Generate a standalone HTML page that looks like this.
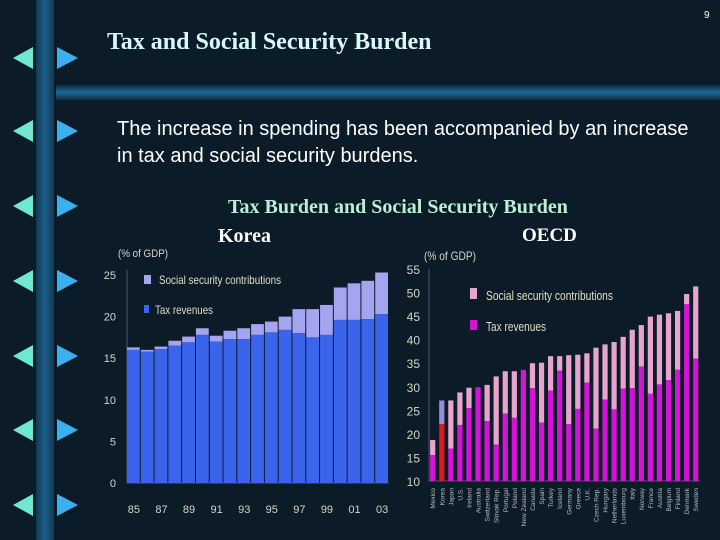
<!DOCTYPE html>
<html><head><meta charset="utf-8">
<style>
html,body{margin:0;padding:0;}
body{width:720px;height:540px;background:#0b1c28;position:relative;overflow:hidden;font-family:"Liberation Sans",sans-serif;}
.t{position:absolute;white-space:nowrap;}
</style></head>
<body>
<div style="position:absolute;left:36px;top:0;width:18px;height:540px;background:linear-gradient(90deg,#123a55,#1d5f88,#123a55);"></div>
<div style="position:absolute;left:56px;top:85px;width:664px;height:15px;background:linear-gradient(180deg,#0f2c40,#1f6a98,#0f2c40);"></div>
<svg width="100" height="540" style="position:absolute;left:0;top:0">
<g id="arr"></g>
</svg>
<div class="t" style="left:704px;top:10px;font-size:10px;color:#fff;">9</div>
<div class="t" style="left:107px;top:29px;font-family:'Liberation Serif',serif;font-weight:bold;font-size:24px;color:#d8f8f8;">Tax and Social Security Burden</div>
<div class="t" style="left:117px;top:116px;font-size:20px;line-height:27px;color:#fff;">The increase in spending has been accompanied by an increase<br>in tax and social security burdens.</div>
<div class="t" style="left:228px;top:196px;font-family:'Liberation Serif',serif;font-weight:bold;font-size:20px;color:#b8f0d0;">Tax Burden and Social Security Burden</div>
<div class="t" style="left:218px;top:225px;font-family:'Liberation Serif',serif;font-weight:bold;font-size:20px;color:#fff;">Korea</div>
<div class="t" style="left:522px;top:225px;font-family:'Liberation Serif',serif;font-weight:bold;font-size:19px;color:#fff;">OECD</div>
<svg id="korea" width="300" height="290" style="position:absolute;left:100px;top:240px"></svg>
<svg id="oecd" width="320" height="300" style="position:absolute;left:400px;top:240px"></svg>
<script>
const koreaYears=["85","86","87","88","89","90","91","92","93","94","95","96","97","98","99","00","01","02","03"];
const koreaTax=[16.0,15.8,16.1,16.5,16.9,17.8,17.0,17.3,17.3,17.8,18.1,18.4,18.0,17.5,17.8,19.6,19.6,19.7,20.3];
const koreaTotal=[16.3,16.0,16.4,17.1,17.6,18.6,17.7,18.3,18.6,19.1,19.4,20.0,20.9,20.9,21.4,23.5,24.0,24.3,25.3];
const koreaTicks=[0,5,10,15,20,25];
const oecdCountries=["Mexico","Korea","Japan","U.S.","Ireland","Australia","Switzerland","Slovak Rep.","Portugal","Poland","New Zealand","Canada","Spain","Turkey","Iceland","Germany","Greece","U.K.","Czech Rep.","Hungary","Netherlands","Luxembourg","Italy","Norway","France","Austria","Belgium","Finland","Denmark","Sweden"];
const oecdTax=[15.5,22.1,16.9,21.9,25.5,29.9,22.7,17.7,24.3,23.4,33.6,29.7,22.4,29.2,33.4,22.1,25.3,30.9,21.1,27.3,25.2,29.6,29.7,34.3,28.5,30.5,31.4,33.6,47.5,36.0];
const oecdTotal=[18.7,27.1,27.1,28.8,29.8,29.9,30.4,32.2,33.3,33.3,33.6,35.0,35.1,36.5,36.5,36.7,36.8,37.1,38.3,39.0,39.5,40.6,42.1,43.1,44.9,45.3,45.6,46.1,49.7,51.3];
const oecdTicks=[10,15,20,25,30,35,40,45,50,55];
const NS="http://www.w3.org/2000/svg";
function mk(p,tag,a,txt){const e=document.createElementNS(NS,tag);for(const k in a)e.setAttribute(k,a[k]);if(txt!==undefined)e.textContent=txt;p.appendChild(e);return e;}
const ag=document.getElementById('arr');
[58,131,206,281,356,430,505].forEach(function(y){
 const l=mk(ag,'polygon',{points:`13,${y} 33,${y-11} 33,${y+11}`,fill:'#6fe8d0'});
 
 
 const r=mk(ag,'polygon',{points:`78,${y} 57,${y-11} 57,${y+11}`,fill:'#3ab0f0'});
 
 
});
(function(){
 const s=document.getElementById('korea');
 const x0=27,x1=289,yb=243,yt=35,vmax=25;
 const y=v=>yb-(v/vmax)*(yb-yt);
 const bw=(x1-x0)/koreaYears.length;
 const bx=i=>x0+i*bw;
 mk(s,'line',{x1:x0,y1:yt-5,x2:x0,y2:yb,stroke:'#556',"stroke-width":1});
 mk(s,'line',{x1:x0,y1:yb,x2:x1,y2:yb,stroke:'#556',"stroke-width":1});
 koreaTicks.forEach(function(t){
  const e=mk(s,'text',{x:16,y:y(t)+4,"text-anchor":"end","font-size":11,fill:'#d8d4c0',"font-family":"Liberation Sans, sans-serif"},t);
  
  
 });
 const yl=mk(s,'text',{x:18,y:17,"font-size":11,fill:'#d8d4c0',"font-family":"Liberation Sans, sans-serif",textLength:50,lengthAdjust:"spacingAndGlyphs"},'(% of GDP)');
 
 
 koreaYears.forEach(function(yr,i){
  const ss=mk(s,'rect',{x:bx(i),y:y(koreaTotal[i]),width:bw-1,height:y(koreaTax[i])-y(koreaTotal[i]),fill:'#a4a4f0'});
  
  
  const tx=mk(s,'rect',{x:bx(i),y:y(koreaTax[i]),width:bw-1,height:yb-y(koreaTax[i]),fill:'#3b64ec'});
  
  
  if(i%2===0){
   const lb=mk(s,'text',{x:bx(i)+bw/2,y:273,"text-anchor":"middle","font-size":11,fill:'#d8d4c0',"font-family":"Liberation Sans, sans-serif"},yr);
   
   
  }
 });
 const l1=mk(s,'rect',{x:44,y:35,width:7,height:9,fill:'#a4a4f0'});
 
 
 const t1=mk(s,'text',{x:59,y:44,"font-size":12,fill:'#e0dcc0',"font-family":"Liberation Sans, sans-serif",textLength:122,lengthAdjust:"spacingAndGlyphs"},'Social security contributions');
 
 
 const l2=mk(s,'rect',{x:44,y:65,width:5,height:8,fill:'#3b64ec'});
 
 
 const t2=mk(s,'text',{x:55,y:74,"font-size":12,fill:'#e0dcc0',"font-family":"Liberation Sans, sans-serif",textLength:58,lengthAdjust:"spacingAndGlyphs"},'Tax revenues');
 
 
})();
(function(){
 const s=document.getElementById('oecd');
 const x0=29,yb=241,yt=29,vmin=10,vmax=55;
 const y=v=>yb-(v-vmin)/(vmax-vmin)*(yb-yt);
 const step=9.07, bw=5.2;
 const cx=i=>32.7+i*step;
 mk(s,'line',{x1:x0,y1:yt,x2:x0,y2:yb,stroke:'#556',"stroke-width":1});
 mk(s,'line',{x1:x0,y1:yb,x2:300,y2:yb,stroke:'#556',"stroke-width":1});
 oecdTicks.forEach(function(t){
  const e=mk(s,'text',{x:20,y:y(t)+5,"text-anchor":"end","font-size":12,fill:'#d8d4c0',"font-family":"Liberation Sans, sans-serif"},t);
  
  
 });
 const yl=mk(s,'text',{x:24,y:20,"font-size":12,fill:'#d8d4c0',"font-family":"Liberation Sans, sans-serif",textLength:52,lengthAdjust:"spacingAndGlyphs"},'(% of GDP)');
 
 
 oecdCountries.forEach(function(c,i){
  const isK=c==='Korea';
  const ss=mk(s,'rect',{x:cx(i)-bw/2,y:y(oecdTotal[i]),width:bw,height:y(oecdTax[i])-y(oecdTotal[i]),fill:isK?'#9a8cd8':'#e8a4cc'});
  
  
  const tx=mk(s,'rect',{x:cx(i)-bw/2,y:y(oecdTax[i]),width:bw,height:yb-y(oecdTax[i]),fill:isK?'#e01818':'#d414d4'});
  
  
  const lb=mk(s,'text',{x:0,y:0,"text-anchor":"end","font-size":6.5,fill:'#b8b8c0',"font-family":"Liberation Sans, sans-serif",transform:`translate(${cx(i)+2.5},${yb+7}) rotate(-90)`},c);
  
  
 });
 const l1=mk(s,'rect',{x:70,y:48,width:7,height:11,fill:'#e8a4cc'});
 
 
 const t1=mk(s,'text',{x:86,y:60,"font-size":13,fill:'#e0dcc0',"font-family":"Liberation Sans, sans-serif",textLength:127,lengthAdjust:"spacingAndGlyphs"},'Social security contributions');
 
 
 const l2=mk(s,'rect',{x:70,y:80,width:7,height:10,fill:'#d414d4'});
 
 
 const t2=mk(s,'text',{x:86,y:91,"font-size":13,fill:'#e0dcc0',"font-family":"Liberation Sans, sans-serif",textLength:60,lengthAdjust:"spacingAndGlyphs"},'Tax revenues');
 
 
})();
</script>
</body></html>
